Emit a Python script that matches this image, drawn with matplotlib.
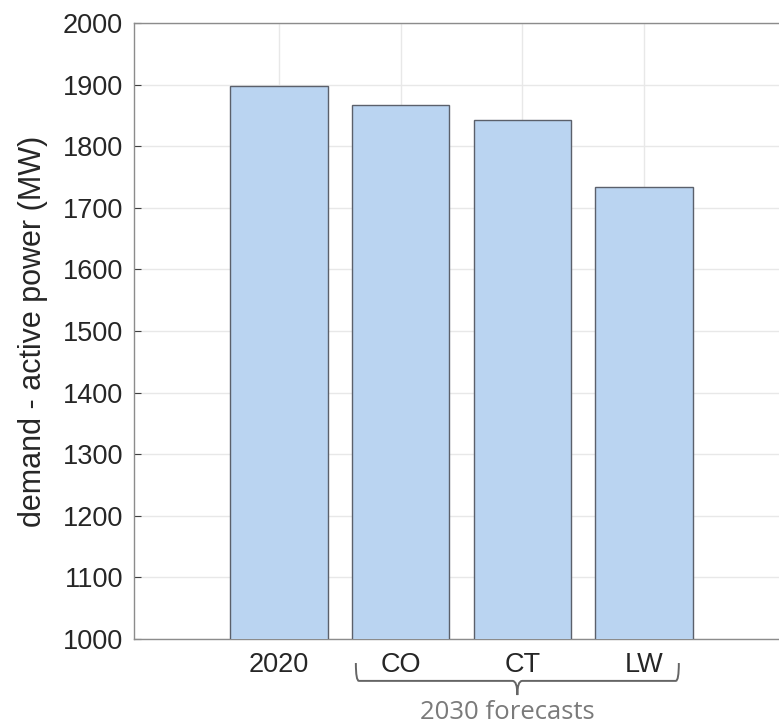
import matplotlib.pyplot as plt
from matplotlib.path import Path
from matplotlib.patches import PathPatch
import matplotlib.transforms as mtransforms

categories = ["2020", "CO", "CT", "LW"]
demand = [1898, 1867, 1843, 1734]
yticks = [1000, 1100, 1200, 1300, 1400, 1500, 1600, 1700, 1800, 1900, 2000]

plt.rcParams['font.family'] = ['Liberation Sans', 'DejaVu Sans']

fig = plt.figure(figsize=(7.79, 7.25), dpi=100)
# axes right edge sits at the figure edge (reference is cropped there)
ax = fig.add_axes([134 / 779, 1 - 639 / 725, 1 - 134 / 779, 616 / 725])

x = list(range(len(categories)))
ax.bar(x, demand, width=0.8, color="#bad4f1", edgecolor="#5b606b", linewidth=1.0, zorder=3)

ax.set_ylim(1000, 2000)
ax.set_xlim(-1.19, 4.11)
ax.set_yticks(yticks)
ax.set_xticks(x)
ax.set_xticklabels(categories)

ax.grid(True, color="#e8e8e8", linewidth=1.0, zorder=0)
ax.set_axisbelow(True)
ax.spines['right'].set_visible(False)
for s in ['left', 'top', 'bottom']:
    ax.spines[s].set_color("#8c8c8c")
    ax.spines[s].set_linewidth(1.0)
ax.tick_params(direction='in', length=5, width=0.8, color="#404040",
               labelsize=19.5, labelcolor="#262626", pad=8)
ax.tick_params(axis='x', pad=9)
ax.set_ylabel("demand - active power (MW)", fontsize=22, color="#262626", labelpad=10)

# brace under the forecast categories
trans = mtransforms.blended_transform_factory(ax.transData, ax.transAxes)
xl, xm, xr = 0.633, 1.96, 3.287
y_tip, y_bar, y_mid = -0.039, -0.068, -0.091
r = 0.025
rm = 0.04
verts = [
    (xl, y_tip), (xl, y_bar), (xl + r, y_bar),
    (xm - rm, y_bar), (xm, y_bar), (xm, y_mid),
    (xr, y_tip), (xr, y_bar), (xr - r, y_bar),
    (xm + rm, y_bar), (xm, y_bar), (xm, y_mid),
]
codes = [
    Path.MOVETO, Path.CURVE3, Path.CURVE3,
    Path.LINETO, Path.CURVE3, Path.CURVE3,
    Path.MOVETO, Path.CURVE3, Path.CURVE3,
    Path.LINETO, Path.CURVE3, Path.CURVE3,
]
brace = PathPatch(Path(verts, codes), fill=False, edgecolor="#656565", linewidth=1.4,
                  transform=trans, clip_on=False)
ax.add_patch(brace)
ax.text(1.88, -0.120, "2030 forecasts", transform=trans, ha='center', va='center',
        fontsize=18.5, color="#7a7a7a", family=['Open Sans', 'DejaVu Sans'])

fig.savefig("out.png", dpi=100)
